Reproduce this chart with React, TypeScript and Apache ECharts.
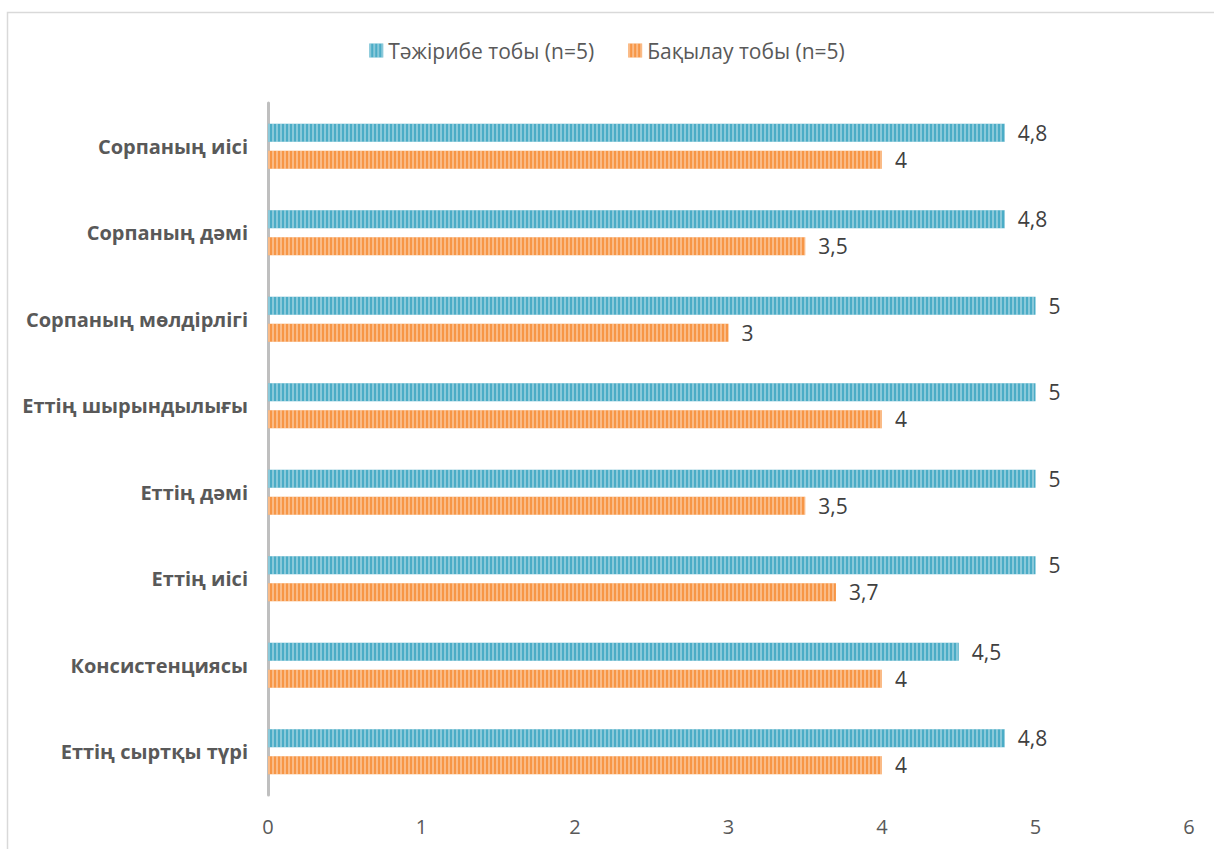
import React, { useEffect, useRef } from "react";
import * as echarts from "echarts";

const categories = [
  "Сорпаның иісі",
  "Сорпаның дәмі",
  "Сорпаның мөлдірлігі",
  "Еттің шырындылығы",
  "Еттің дәмі",
  "Еттің иісі",
  "Консистенциясы",
  "Еттің сыртқы түрі",
];
const experimentName = "Тәжірибе тобы (n=5)";
const controlName = "Бақылау тобы (n=5)";
const experimentValues = [4.8, 4.8, 5, 5, 5, 5, 4.5, 4.8];
const controlValues = [4, 3.5, 3, 4, 3.5, 3.7, 4, 4];
const xTicks = { min: 0, max: 6, interval: 1 };

const FONT = "'Open Sans', 'Noto Sans', sans-serif";

export default function App() {
  const ref = useRef<HTMLDivElement>(null);
  useEffect(() => {
    document.body.style.margin = "0";
    const chart = echarts.init(ref.current!, null, { renderer: "svg" });
    const stripe = (c: string) => ({
      symbol: "rect",
      symbolSize: 1,
      color: c,
      dashArrayX: [2, 2],
      dashArrayY: [4, 0],
      rotation: 0,
    });
    const label = {
      show: true,
      position: "right" as const,
      distance: 13,
      color: "#404040",
      fontSize: 21,
      fontFamily: FONT,
      formatter: (p: any) => String(p.value).replace(".", ","),
    };
    chart.setOption({
      animation: false,
      aria: { enabled: true, decal: { show: true } },
      legend: {
        top: 35,
        left: "center",
        itemWidth: 14,
        itemHeight: 14,
        itemGap: 34,
        itemStyle: { borderWidth: 0 },
        icon: "rect",
        textStyle: { color: "#595959", fontSize: 21, fontFamily: FONT },
        data: [experimentName, controlName],
      },
      graphic: [
        {
          type: "rect",
          shape: { x: 7.5, y: 12.5, width: 1300, height: 900 },
          style: { fill: "none", stroke: "#d9d9d9", lineWidth: 1.5 },
          silent: true,
        },
      ],
      grid: { left: 268, right: 25, top: 103, bottom: 54 },
      xAxis: {
        type: "value",
        min: xTicks.min,
        max: xTicks.max,
        interval: xTicks.interval,
        splitLine: { show: false },
        axisLine: { show: false },
        axisTick: { show: false },
        axisLabel: { color: "#595959", fontSize: 20, fontFamily: FONT, margin: 21 },
      },
      yAxis: {
        type: "category",
        inverse: true,
        data: categories,
        axisLine: { show: true, lineStyle: { color: "#bfbfbf", width: 3 } },
        axisTick: { show: false },
        axisLabel: {
          color: "#595959",
          fontSize: 20,
          fontWeight: "bold",
          fontFamily: FONT,
          margin: 20,
        },
      },
      series: [
        {
          name: experimentName,
          type: "bar",
          data: experimentValues,
          barWidth: 18,
          barGap: "50%",
          barCategoryGap: "48%",
          itemStyle: { color: "#4bacc6", decal: stripe("rgba(255,255,255,0.35)") },
          label,
        },
        {
          name: controlName,
          type: "bar",
          data: controlValues,
          barWidth: 18,
          barGap: "50%",
          barCategoryGap: "48%",
          itemStyle: { color: "#f79646", decal: stripe("rgba(255,255,255,0.35)") },
          label,
        },
      ],
    });
    return () => chart.dispose();
  }, []);
  return <div ref={ref} style={{ width: 1214, height: 849 }} />;
}
